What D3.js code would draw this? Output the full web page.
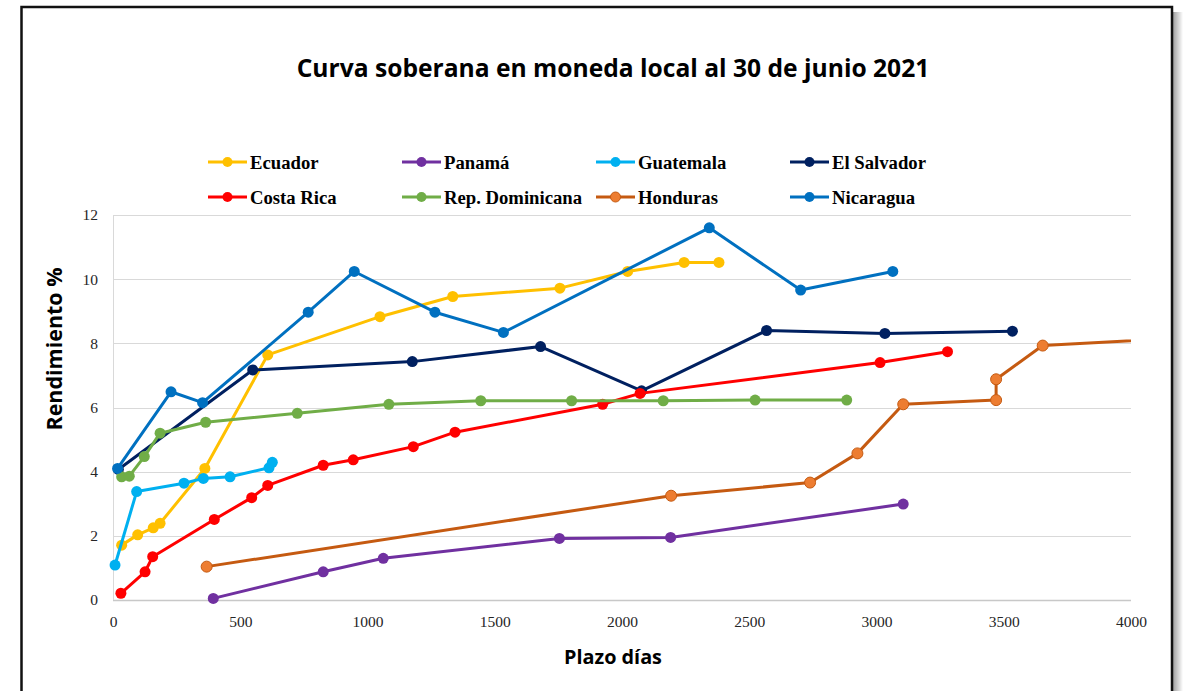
<!DOCTYPE html>
<html>
<head>
<meta charset="utf-8">
<script src="https://cdnjs.cloudflare.com/ajax/libs/d3/7.8.5/d3.min.js"></script>
<style>
  html, body { margin: 0; padding: 0; background: #fff; }
  svg { display: block; }
</style>
</head>
<body>
<div id="chart"></div>
<script>
// Data: [plazo dias, rendimiento %]
var ecuador = [[34,1.71],[97,2.03],[158,2.25],[185,2.39],[361,4.1],[608,7.64],[1049,8.83],[1335,9.46],[1756,9.72],[2022,10.24],[2244,10.52],[2381,10.52]];
var panama = [[394,0.05],[826,0.88],[1062,1.3],[1754,1.92],[2191,1.95],[3105,2.99]];
var guatemala = [[8,1.09],[93,3.38],[279,3.64],[355,3.79],[460,3.84],[613,4.12],[626,4.29]];
var elSalvador = [[21,4.07],[549,7.17],[1176,7.43],[1680,7.9],[2077,6.52],[2568,8.4],[3033,8.31],[3534,8.38]];
var costaRica = [[31,0.21],[126,0.88],[156,1.35],[398,2.51],[545,3.19],[608,3.57],[826,4.2],[944,4.37],[1180,4.78],[1344,5.23],[1924,6.1],[2071,6.44],[3014,7.4],[3279,7.74]];
var repDominicana = [[34,3.84],[64,3.86],[123,4.47],[185,5.2],[364,5.54],[724,5.82],[1084,6.1],[1445,6.21],[1802,6.21],[2162,6.21],[2523,6.23],[2883,6.23]];
var honduras = [[368,1.04],[2193,3.25],[2739,3.66],[2925,4.57],[3105,6.1],[3470,6.23],[3470,6.88],[3653,7.93],[4500,8.3]];
var nicaragua = [[18,4.1],[228,6.49],[352,6.15],[767,8.97],[948,10.24],[1265,8.97],[1534,8.34],[2343,11.6],[2702,9.66],[3064,10.24]];

var seriesNames = ["Ecuador", "Panamá", "Guatemala", "El Salvador", "Costa Rica", "Rep. Dominicana", "Honduras", "Nicaragua"];
var seriesData = [ecuador, panama, guatemala, elSalvador, costaRica, repDominicana, honduras, nicaragua];
var lineColors = ["#FFC000", "#7030A0", "#00B0F0", "#002060", "#FF0000", "#70AD47", "#C55A11", "#0070C0"];
var markerColors = ["#FFC000", "#7030A0", "#00B0F0", "#002060", "#FF0000", "#70AD47", "#ED7D31", "#0070C0"];

var xTicks = [0, 500, 1000, 1500, 2000, 2500, 3000, 3500, 4000];
var yTicks = [0, 2, 4, 6, 8, 10, 12];

var titleText = "Curva soberana en moneda local al 30 de junio 2021";
var xTitle = "Plazo días";
var yTitle = "Rendimiento %";

var width = 1183, height = 691;
var plot = { left: 113, right: 1131, top: 215, bottom: 600 };

var svg = d3.select('#chart').append('svg')
  .attr('width', width)
  .attr('height', height);

// frame with a soft shadow on the right
var defs = svg.append('defs');
var grad = defs.append('linearGradient').attr('id', 'shadow').attr('x1', 0).attr('x2', 1);
grad.append('stop').attr('offset', 0).attr('stop-color', '#a0a0a0');
grad.append('stop').attr('offset', 1).attr('stop-color', '#ffffff');

svg.append('rect')
  .attr('x', 1173).attr('y', 12)
  .attr('width', 10).attr('height', height)
  .attr('fill', 'url(#shadow)');

svg.append('rect')
  .attr('x', 21.5).attr('y', 7)
  .attr('width', 1150.5).attr('height', height + 20)
  .attr('fill', '#fff')
  .attr('stroke', '#111')
  .attr('stroke-width', 2.5);

var x = d3.scaleLinear().domain([0, 4000]).range([plot.left, plot.right]);
var y = d3.scaleLinear().domain([0, 12]).range([plot.bottom, plot.top]);

// gridlines
svg.append('g')
  .selectAll('line')
  .data(yTicks)
  .enter()
  .append('line')
  .attr('x1', plot.left)
  .attr('x2', plot.right)
  .attr('y1', function(d){ return Math.round(y(d)) + .5; })
  .attr('y2', function(d){ return Math.round(y(d)) + .5; })
  .attr('stroke', function(d){ return d === 0 ? '#c8c8c8' : '#d9d9d9'; })
  .attr('stroke-width', function(d){ return d === 0 ? 1.5 : 1; });

svg.append('line')
  .attr('x1', plot.left + .5).attr('x2', plot.left + .5)
  .attr('y1', plot.top).attr('y2', plot.bottom)
  .attr('stroke', '#d9d9d9');

// axes
var yAxis = svg.append('g')
  .attr('transform', 'translate(' + (plot.left - 15) + ',0)')
  .call(d3.axisLeft(y).tickValues(yTicks).tickSize(0).tickPadding(0));

var xAxis = svg.append('g')
  .attr('transform', 'translate(0,' + (plot.bottom + 15) + ')')
  .call(d3.axisBottom(x).tickValues(xTicks).tickSize(0).tickPadding(0).tickFormat(d3.format('d')));

svg.selectAll('.domain').remove();
[xAxis, yAxis].forEach(function(ax){
  ax.attr('font-family', null).attr('font-size', null);
  ax.selectAll('.tick text')
    .style('font-family', '"Liberation Serif", "Times New Roman", serif')
    .style('font-size', '15.5px')
    .attr('fill', '#262626');
});
xAxis.selectAll('.tick text').attr('dy', '0.75em');

// series
var clip = defs.append('clipPath').attr('id', 'plotclip');
clip.append('rect')
  .attr('x', 0).attr('y', 0)
  .attr('width', plot.right).attr('height', height);

var line = d3.line()
  .x(function(d){ return x(d[0]); })
  .y(function(d){ return y(d[1]); });

var seriesG = svg.append('g').attr('clip-path', 'url(#plotclip)');

seriesData.forEach(function(data, i){
  var g = seriesG.append('g');
  g.append('path')
    .attr('d', line(data))
    .attr('fill', 'none')
    .attr('stroke', lineColors[i])
    .attr('stroke-width', 3)
    .attr('stroke-linejoin', 'round');
  g.selectAll('circle')
    .data(data)
    .enter()
    .append('circle')
    .attr('cx', function(d){ return x(d[0]); })
    .attr('cy', function(d){ return y(d[1]); })
    .attr('r', 5.5)
    .attr('fill', markerColors[i])
    .attr('stroke', lineColors[i])
    .attr('stroke-width', i === 6 ? 1 : 0);
});

// legend
var legend = svg.append('g');
var legendItems = legend.selectAll('g')
  .data(seriesNames)
  .enter()
  .append('g')
  .attr('transform', function(d, i){
    return 'translate(' + (208 + (i % 4) * 194) + ',' + (162 + Math.floor(i / 4) * 35) + ')';
  });

legendItems.append('line')
  .attr('x1', 0).attr('x2', 39)
  .attr('y1', 0).attr('y2', 0)
  .attr('stroke', function(d, i){ return lineColors[i]; })
  .attr('stroke-width', 3);

legendItems.append('circle')
  .attr('cx', 19.5).attr('cy', 0).attr('r', 5)
  .attr('fill', function(d, i){ return markerColors[i]; })
  .attr('stroke', function(d, i){ return lineColors[i]; })
  .attr('stroke-width', function(d, i){ return i === 6 ? 1 : 0; });

legendItems.append('text')
  .attr('x', 42)
  .attr('y', 0)
  .attr('dy', '0.35em')
  .attr('font-family', '"Liberation Serif", serif')
  .attr('font-weight', 'bold')
  .attr('font-size', 18.7)
  .attr('fill', '#000')
  .text(function(d){ return d; });

// titles
function fitText(sel, targetWidth){
  var w = sel.node().getComputedTextLength();
  var fs = parseFloat(sel.attr('font-size'));
  sel.attr('font-size', fs * targetWidth / w);
}

var title = svg.append('text')
  .attr('x', 613)
  .attr('y', 77)
  .attr('text-anchor', 'middle')
  .attr('font-family', '"Open Sans", sans-serif')
  .attr('font-weight', 'bold')
  .attr('font-size', 24)
  .attr('fill', '#000')
  .text(titleText);
fitText(title, 633);

var xt = svg.append('text')
  .attr('x', 613)
  .attr('y', 664)
  .attr('text-anchor', 'middle')
  .attr('font-family', '"Open Sans", sans-serif')
  .attr('font-weight', 'bold')
  .attr('font-size', 20)
  .attr('fill', '#000')
  .text(xTitle);
fitText(xt, 98);

var yt = svg.append('text')
  .attr('transform', 'translate(62,349) rotate(-90)')
  .attr('text-anchor', 'middle')
  .attr('font-family', '"Open Sans", sans-serif')
  .attr('font-weight', 'bold')
  .attr('font-size', 20)
  .attr('fill', '#000')
  .text(yTitle);
fitText(yt, 163);
</script>
</body>
</html>
